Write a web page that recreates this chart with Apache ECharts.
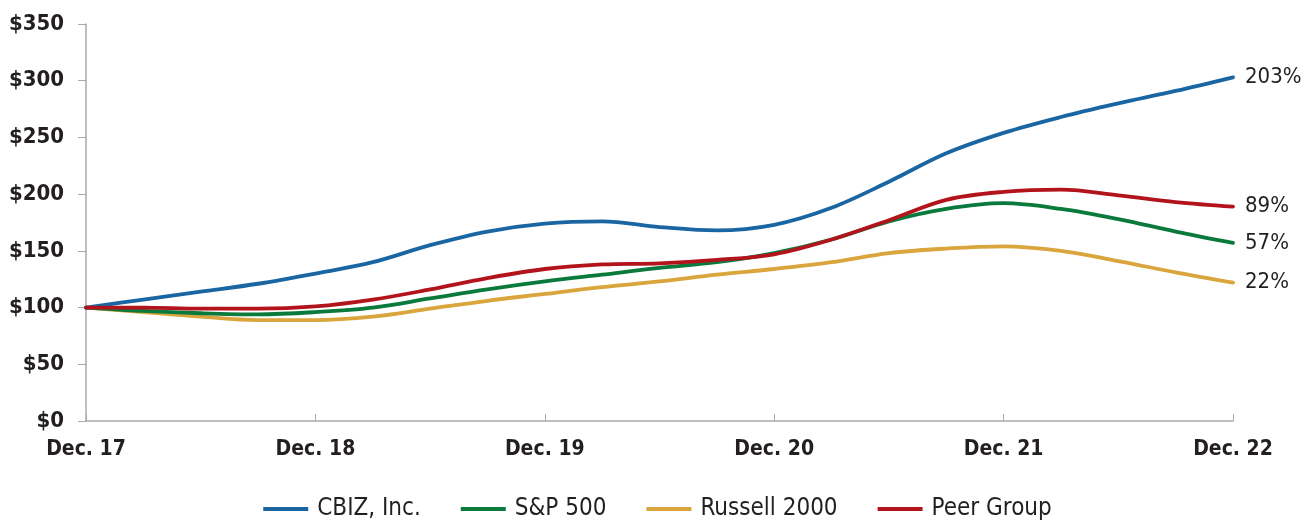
<!DOCTYPE html>
<html>
<head>
<meta charset="utf-8">
<script src="https://cdn.jsdelivr.net/npm/echarts@6/dist/echarts.min.js"></script>
<style>
html,body{margin:0;padding:0;background:#fff;}
#chart{width:1315px;height:520px;}
</style>
</head>
<body>
<div id="chart"></div>
<script>
const quarters = ['Dec. 17','Mar. 18','Jun. 18','Sep. 18','Dec. 18','Mar. 19','Jun. 19','Sep. 19','Dec. 19','Mar. 20','Jun. 20','Sep. 20','Dec. 20','Mar. 21','Jun. 21','Sep. 21','Dec. 21','Mar. 22','Jun. 22','Sep. 22','Dec. 22'];
const cbiz    = [100,107,114,121,130,140,155,167,174,176,171,168,173,188,211,236,254,268,280,291,303];
const sp500   = [100,97,95,94,96,100,108,116,123,129,135,140,148,160,176,187,192,187,178,167,157];
const russell = [100,96,92,89,89,92,99,106,112,118,123,129,134,140,148,152,154,150,141,131,122];
const peer    = [100,100,99,99,101,107,116,126,134,138,139,142,147,160,177,195,202,204,199,193,189];
const seriesNames = ['CBIZ, Inc.','S&P 500','Russell 2000','Peer Group'];
const endLabels = ['203%','57%','22%','89%'];
const yTicks = {min:0, max:350, interval:50};

const colors = ['#1a66a3','#0a7a3c','#d9a53c','#b3141c'];
const narrow = "'Liberation Sans Narrow','DejaVu Sans Condensed','Roboto Condensed',sans-serif";
const dataSets = [cbiz, sp500, russell, peer];

const chart = echarts.init(document.getElementById('chart'), null, {renderer:'canvas'});
const series = dataSets.map((d, i) => ({
  name: seriesNames[i],
  type: 'line',
  data: d,
  smooth: 0.35,
  symbol: 'none',
  z: i === 3 ? 5 : (i === 0 ? 4 : 3 - i),
  lineStyle: {width: 3.8, color: colors[i], cap: 'round'},
  itemStyle: {color: colors[i]},
  endLabel: {
    show: true,
    formatter: () => endLabels[i],
    distance: 12,
    fontSize: 22,
    fontFamily: narrow,
    color: '#231f20'
  }
}));

chart.setOption({
  animation: false,
  color: colors,
  grid: {left: 86, right: 82, top: 24, bottom: 99, containLabel: false},
  legend: {
    bottom: -6,
    left: 'center',
    itemWidth: 45,
    itemHeight: 4,
    itemGap: 40,
    icon: 'rect',
    textStyle: {fontSize: 24, fontFamily: narrow, color: '#231f20', padding: [0,0,0,4]},
    data: seriesNames
  },
  xAxis: {
    type: 'category',
    data: quarters,
    boundaryGap: false,
    axisLine: {lineStyle: {color: '#aaaaaa', width: 1.5}},
    axisTick: {show: true, inside: true, length: 7, interval: 3, lineStyle: {color: '#aaaaaa'}},
    axisLabel: {interval: 3, margin: 18, fontSize: 21, fontWeight: 'bold', fontFamily: narrow, color: '#231f20'},
    splitLine: {show: false}
  },
  yAxis: {
    type: 'value',
    min: yTicks.min, max: yTicks.max, interval: yTicks.interval,
    axisLine: {show: true, lineStyle: {color: '#aaaaaa', width: 1.5}},
    axisTick: {show: true, length: 8, lineStyle: {color: '#aaaaaa'}},
    axisLabel: {margin: 22, fontSize: 22, fontWeight: 'bold', fontFamily: narrow, color: '#231f20', formatter: v => '$' + v},
    splitLine: {show: false}
  },
  series: series
});
</script>
</body>
</html>
